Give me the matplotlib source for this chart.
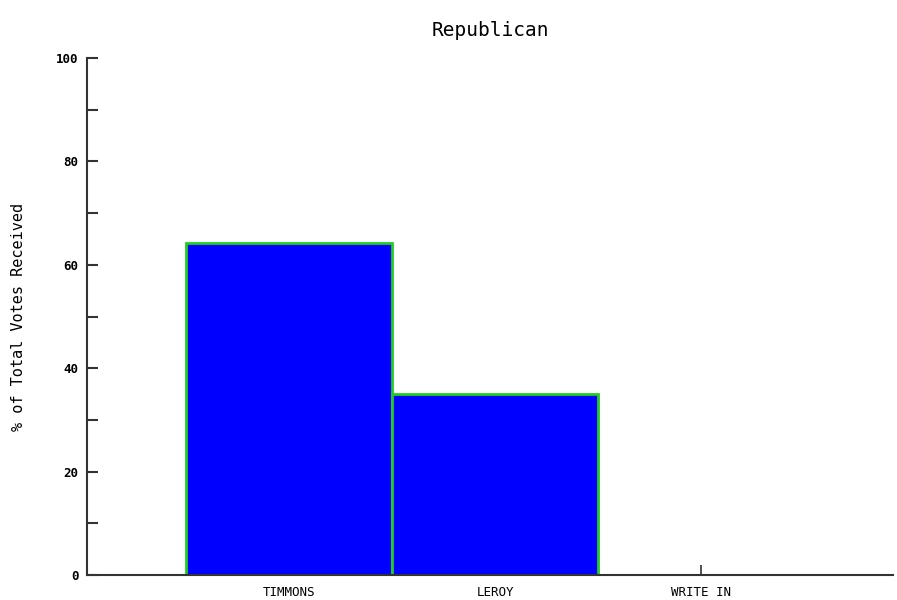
import matplotlib
matplotlib.use("Agg")
import matplotlib.pyplot as plt
from matplotlib.ticker import MultipleLocator

candidates = ["TIMMONS", "LEROY", "WRITE IN"]
percent = [64.2, 35.0, 0.0]
title = "Republican"
ylabel = "% of Total Votes Received"

fig = plt.figure(figsize=(8.97, 6.0), dpi=100)
ax = fig.add_axes([87/897, 25/600, (893-87)/897, (575-58)/600])
ax.set_axisbelow(True)

x = list(range(len(candidates)))
ax.bar(x, percent, width=1.0, color="#0000ff", edgecolor="#22cc22", linewidth=2)

ax.set_xlim(-0.98, 2.93)
ax.set_ylim(0, 100)
ax.set_xticks(x)
ax.set_xticklabels(candidates, family="DejaVu Sans Mono", fontsize=9)
ax.yaxis.set_major_locator(MultipleLocator(20))
ax.yaxis.set_minor_locator(MultipleLocator(10))
for lab in ax.get_yticklabels():
    lab.set_family("DejaVu Sans Mono")
    lab.set_fontsize(9)
    lab.set_fontweight("bold")

ax.tick_params(axis="y", which="both", direction="in", length=8, width=1.5, color="#333333", pad=6)
ax.tick_params(axis="x", which="both", direction="in", length=7, width=1.2, color="#333333", pad=8)
for s in ["top", "right"]:
    ax.spines[s].set_visible(False)
for s in ["left", "bottom"]:
    ax.spines[s].set_color("#333333")
    ax.spines[s].set_linewidth(1.5)

ax.set_title(title, family="DejaVu Sans Mono", fontsize=14, pad=16)
ax.set_ylabel(ylabel, family="DejaVu Sans Mono", fontsize=11, labelpad=22)

fig.savefig("out.png", dpi=100)
